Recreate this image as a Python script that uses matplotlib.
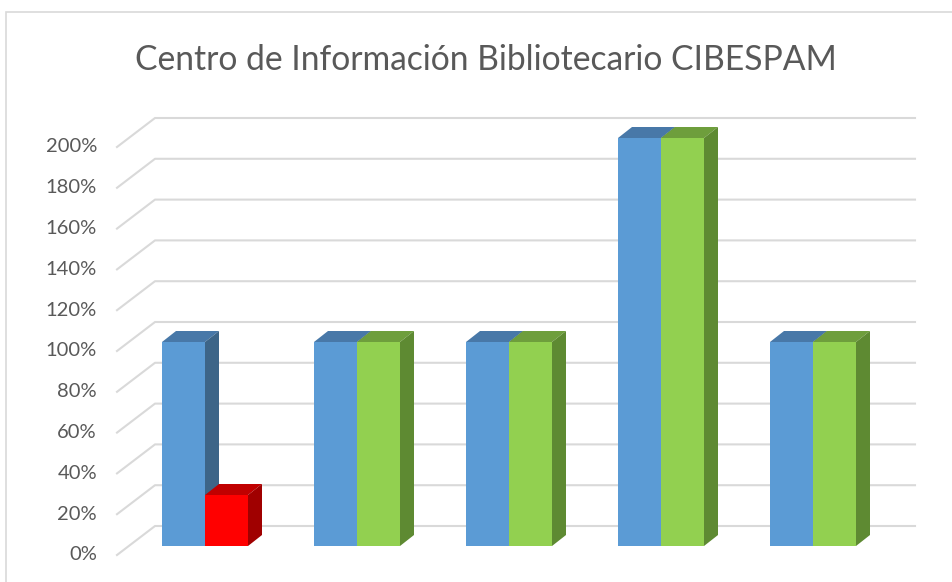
import matplotlib.pyplot as plt
from matplotlib.patches import Polygon, Rectangle
from matplotlib.lines import Line2D

# datos del grafico
categorias = ["1", "2", "3", "4", "5"]
serie1 = [1.0, 1.0, 1.0, 2.0, 1.0]
serie2 = [0.25, 1.0, 1.0, 2.0, 1.0]
ticks = [0, 0.2, 0.4, 0.6, 0.8, 1.0, 1.2, 1.4, 1.6, 1.8, 2.0]
titulo = "Centro de Información Bibliotecario CIBESPAM"

# colores (frente, arriba, lado)
azul = ("#5B9BD5", "#4878A8", "#3D6588")
verde = ("#92D050", "#6E9E3C", "#5E8A32")
rojo = ("#FF0000", "#C00000", "#A00000")
colores2 = [rojo, verde, verde, verde, verde]

W, H = 952, 582
fig = plt.figure(figsize=(W / 100, H / 100), dpi=100)

# marco del area del grafico
fig.patches.append(Rectangle((6 / W, -0.1), 1.2, 1 - 12 / H + 0.1, transform=fig.transFigure,
                             fill=False, edgecolor="#D9D9D9", linewidth=1.2))

ax = fig.add_axes([129 / W, 36 / H, 760 / W, 408 / H])
ax.set_xlim(-0.5, len(categorias) - 0.5)
ax.set_ylim(0, 2.0)
ax.axis("off")

px_x = 760 / len(categorias)  # pixeles por categoria
px_y = 408 / 2.0              # pixeles por unidad

# desplazamientos de profundidad (en unidades de datos)
fx, fy = -12 / px_x, -9 / px_y   # borde frontal del piso
bx, by = 26 / px_x, 20 / px_y    # pared del fondo
dx, dy = 14 / px_x, 11 / px_y    # profundidad de las barras

x0, x1 = -0.5, len(categorias) - 0.5
for v in ticks:
    ax.add_line(Line2D([x0 + fx, x0 + bx, x1 + bx], [v + fy, v + by, v + by],
                       color="#D9D9D9", linewidth=1.5, clip_on=False, zorder=1))
    ax.text(x0 + fx - 20 / px_x, v + fy, f"{int(round(v * 100))}%", ha="right", va="center",
            fontsize=14.5, color="#595959", family="Lato")

ancho = 43 / px_x


def barra3d(x, h, cols, z):
    ax.add_patch(Rectangle((x, 0), ancho, h, facecolor=cols[0], edgecolor="none", zorder=z))
    ax.add_patch(Polygon([(x, h), (x + ancho, h), (x + ancho + dx, h + dy), (x + dx, h + dy)],
                         closed=True, facecolor=cols[1], edgecolor="none", zorder=z, clip_on=False))
    ax.add_patch(Polygon([(x + ancho, 0), (x + ancho, h), (x + ancho + dx, h + dy), (x + ancho + dx, dy)],
                         closed=True, facecolor=cols[2], edgecolor="none", zorder=z, clip_on=False))


for i in range(len(categorias)):
    barra3d(i - ancho, serie1[i], azul, 2)
    barra3d(i, serie2[i], colores2[i], 3)

fig.text(486 / W, 1 - 60 / H, titulo, ha="center", va="center", fontsize=24.2,
         color="#595959", family="Lato")

fig.savefig("out.png", dpi=100)
